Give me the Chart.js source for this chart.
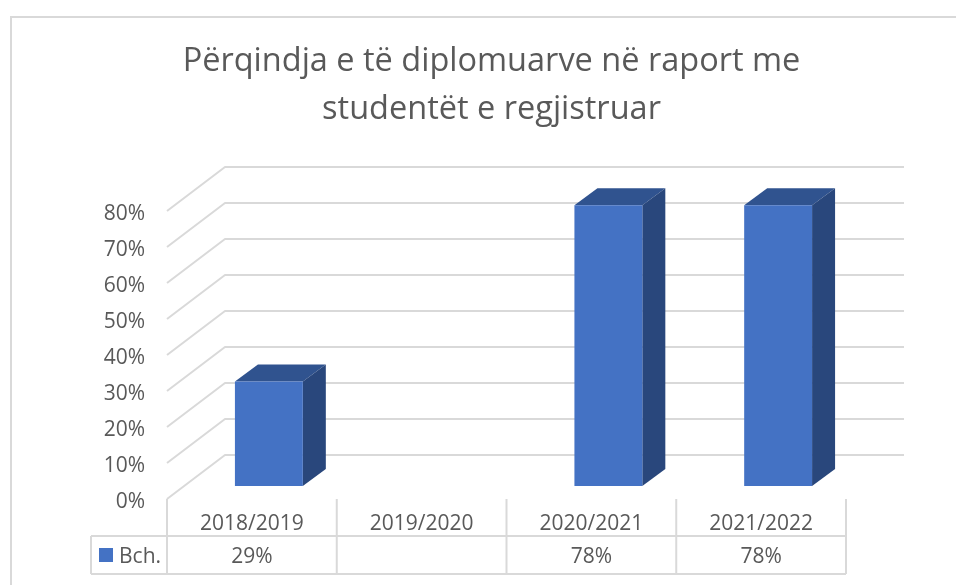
<!DOCTYPE html>
<html>
<head>
<meta charset="utf-8">
<style>html,body{margin:0;padding:0;background:#fff}canvas{display:block}</style>
<script src="https://cdn.jsdelivr.net/npm/chart.js@4"></script>
</head>
<body>
<canvas id="c" width="956" height="585"></canvas>
<script>
const titleLines = ["Përqindja e të diplomuarve në raport me", "studentët e regjistruar"];
const categories = ["2018/2019", "2019/2020", "2020/2021", "2021/2022"];
const seriesName = "Bch.";
const seriesValues = [29, null, 78, 78];
const FONT = '"Open Sans"';
const GRID = "#d9d9d9", TEXT = "#595959";
const FRONT = "#4472c4", SIDE = "#29477c", TOP = "#30538f";
const wall = {dx: 58, dy: -44};
const barShift = {dx: 17, dy: -13};
const barDepth = {dx: 23, dy: -17};

function line(ctx, x1, y1, x2, y2) {
  ctx.beginPath(); ctx.moveTo(x1, y1); ctx.lineTo(x2, y2); ctx.stroke();
}
function poly(ctx, pts, fill) {
  ctx.fillStyle = fill; ctx.beginPath();
  pts.forEach((p, i) => i ? ctx.lineTo(p[0], p[1]) : ctx.moveTo(p[0], p[1]));
  ctx.closePath(); ctx.fill();
}

const frame3d = {
  id: "frame3d",
  beforeDatasetsDraw(chart) {
    const {ctx, chartArea: a, scales: {x, y}} = chart;
    ctx.save();
    ctx.strokeStyle = GRID; ctx.lineWidth = 2;
    // outer chart frame
    line(ctx, 11, 17, 956, 17);
    line(ctx, 11, 16, 11, 585);
    // gridlines on side wall and back wall
    ctx.lineJoin = "round";
    y.ticks.forEach((t) => {
      const py = y.getPixelForValue(t.value);
      ctx.beginPath();
      ctx.moveTo(a.left, py);
      ctx.lineTo(a.left + wall.dx, py + wall.dy);
      ctx.lineTo(a.right + wall.dx, py + wall.dy);
      ctx.stroke();
    });
    // data table
    const half = (x.getPixelForValue(1) - x.getPixelForValue(0)) / 2;
    const rowTop = 536, rowBottom = 574, tableLeft = 91;
    categories.forEach((_, i) => line(ctx, x.getPixelForValue(i) - half, a.bottom, x.getPixelForValue(i) - half, rowBottom));
    line(ctx, a.right, a.bottom, a.right, rowBottom);
    line(ctx, tableLeft, rowTop, a.right, rowTop);
    line(ctx, tableLeft, rowBottom, a.right, rowBottom);
    line(ctx, tableLeft, rowTop, tableLeft, rowBottom);
    ctx.fillStyle = FRONT;
    ctx.fillRect(99, 548, 14, 14);
    ctx.fillStyle = TEXT;
    ctx.font = "21px " + FONT;
    ctx.textBaseline = "middle";
    ctx.textAlign = "left";
    ctx.fillText(seriesName, 119, 557);
    ctx.textAlign = "center";
    seriesValues.forEach((v, i) => {
      if (v !== null) ctx.fillText(v + "%", x.getPixelForValue(i), 557);
    });
    ctx.restore();
  },
  beforeDatasetDraw(chart, args) {
    const ctx = chart.ctx;
    ctx.save();
    ctx.translate(barShift.dx, barShift.dy);
    args.meta.data.forEach((b, i) => {
      if (seriesValues[i] === null) return;
      const l = b.x - b.width / 2, r = b.x + b.width / 2;
      const {dx, dy} = barDepth;
      poly(ctx, [[l, b.y], [r, b.y], [r + dx, b.y + dy], [l + dx, b.y + dy]], TOP);
      poly(ctx, [[r, b.y], [r + dx, b.y + dy], [r + dx, b.base + dy], [r, b.base]], SIDE);
    });
  },
  afterDatasetDraw(chart) {
    chart.ctx.restore();
  }
};

new Chart(document.getElementById("c"), {
  type: "bar",
  data: {
    labels: categories,
    datasets: [{
      label: seriesName,
      data: seriesValues,
      backgroundColor: FRONT,
      barPercentage: 0.4,
      categoryPercentage: 1,
      clip: false
    }]
  },
  plugins: [frame3d],
  options: {
    responsive: false,
    animation: false,
    layout: {padding: {left: 27, right: 0, top: 0, bottom: 0}},
    plugins: {
      legend: {display: false},
      tooltip: {enabled: false},
      title: {
        display: true,
        text: titleLines,
        color: TEXT,
        font: {family: FONT, size: 32.5, weight: "normal", lineHeight: 48 / 32.5},
        padding: {top: 38, bottom: 77}
      }
    },
    scales: {
      x: {
        grid: {display: false},
        border: {display: false},
        ticks: {color: TEXT, font: {family: FONT, size: 21}, padding: 4, maxRotation: 0},
        afterFit(s) { s.height = 86; }
      },
      y: {
        min: 0, max: 80,
        grid: {display: false},
        border: {display: false},
        ticks: {stepSize: 10, color: TEXT, font: {family: FONT, size: 21, lineHeight: 7 / 21}, padding: 14,
          // the empty first line drops the label half a line, so the digits sit on the tick
          callback: (v) => ["", v + "%"]},
        afterFit(s) { s.width = 140; }
      },
      rightGutter: {
        position: "right",
        min: 0, max: 80,
        grid: {display: false},
        border: {display: false},
        ticks: {display: false},
        afterFit(s) { s.width = 110; }
      }
    }
  }
});
</script>
</body>
</html>
